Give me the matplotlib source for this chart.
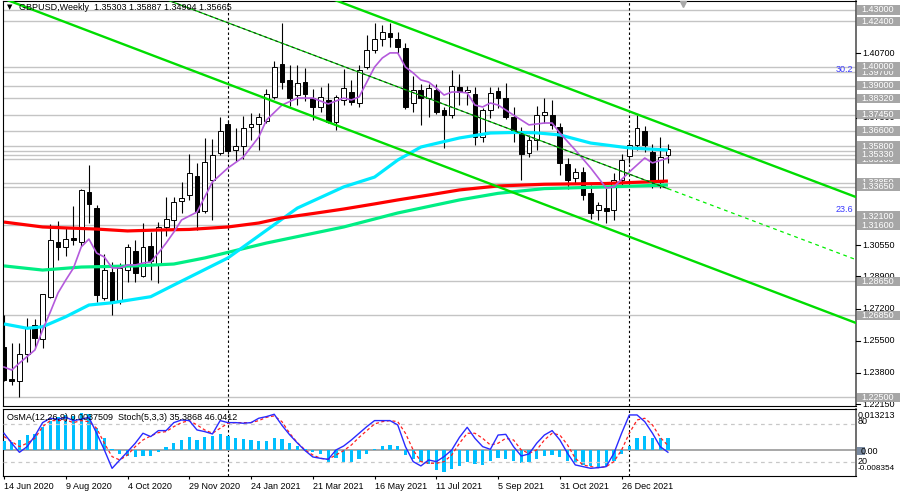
import matplotlib
matplotlib.use("Agg")
import matplotlib.pyplot as plt
from matplotlib.patches import Rectangle
from matplotlib.lines import Line2D
from matplotlib.transforms import blended_transform_factory

plt.rcParams['font.family'] = ['Liberation Sans', 'DejaVu Sans']

# ---------------- data ----------------
title = "GBPUSD,Weekly  1.35303 1.35887 1.34904 1.35665"
sub_title = "OsMA(12,26,9) 0.0037509  Stoch(5,3,3) 35.3868 46.0412"

date_labels = ['14 Jun 2020', '9 Aug 2020', '4 Oct 2020', '29 Nov 2020', '24 Jan 2021',
               '21 Mar 2021', '16 May 2021', '11 Jul 2021', '5 Sep 2021', '31 Oct 2021',
               '26 Dec 2021']
date_bars = [0, 8, 16, 24, 32, 40, 48, 56, 64, 72, 80]
year_sep_bars = [29, 81]

opens = [1.2517, 1.2348, 1.2337, 1.2480, 1.2632, 1.2559, 1.2782, 1.3072, 1.3048, 1.3094,
         1.3070, 1.3337, 1.3252, 1.2776, 1.2913, 1.2760, 1.2924, 1.3025, 1.2893, 1.3051,
         1.2950, 1.3150, 1.3190, 1.3289, 1.3321, 1.3420, 1.3236, 1.3400, 1.3543, 1.3697,
         1.3559, 1.3580, 1.3681, 1.3697, 1.3714, 1.3840, 1.4014, 1.3930, 1.3850, 1.3919,
         1.3834, 1.3788, 1.3823, 1.3707, 1.3824, 1.3866, 1.3808, 1.3998, 1.4088, 1.4146,
         1.4178, 1.4146, 1.4099, 1.3808, 1.3877, 1.3834, 1.3877, 1.3771, 1.3744, 1.3893,
         1.3866, 1.3856, 1.3628, 1.3771, 1.3870, 1.3834, 1.3734, 1.3660, 1.3543, 1.3612,
         1.3744, 1.3744, 1.3681, 1.3485, 1.3411, 1.3443, 1.3332, 1.3244, 1.3252, 1.3241,
         1.3402, 1.3530, 1.3586, 1.3660, 1.3549, 1.3391, 1.35303]
highs = [1.2686, 1.2538, 1.2538, 1.2670, 1.2667, 1.2800, 1.3168, 1.3185, 1.3152, 1.3263,
         1.3355, 1.3482, 1.3268, 1.3007, 1.2967, 1.2960, 1.3060, 1.3083, 1.3175, 1.3127,
         1.3177, 1.3312, 1.3311, 1.3390, 1.3538, 1.3490, 1.3625, 1.3620, 1.3734, 1.3720,
         1.3676, 1.3739, 1.3755, 1.3755, 1.3882, 1.4030, 1.4231, 1.4009, 1.4009, 1.3993,
         1.3882, 1.3891, 1.3914, 1.3850, 1.3990, 1.3930, 1.4009, 1.4168, 1.4231, 1.4221,
         1.4231, 1.4185, 1.4125, 1.3950, 1.3910, 1.3910, 1.3910, 1.3787, 1.3983, 1.3962,
         1.3900, 1.3890, 1.3780, 1.3892, 1.3890, 1.3914, 1.3787, 1.3680, 1.3638, 1.3790,
         1.3834, 1.3825, 1.3700, 1.3517, 1.3464, 1.3470, 1.3372, 1.3284, 1.3358, 1.3440,
         1.3540, 1.3600, 1.3745, 1.3686, 1.3590, 1.3628, 1.35887]
lows = [1.2335, 1.2316, 1.2252, 1.2440, 1.2512, 1.2512, 1.2777, 1.2977, 1.2996, 1.3058,
        1.3050, 1.3173, 1.2755, 1.2765, 1.2688, 1.2745, 1.2862, 1.2862, 1.2889, 1.2871,
        1.2854, 1.3105, 1.3140, 1.3226, 1.3295, 1.3136, 1.3226, 1.3189, 1.3533, 1.3540,
        1.3501, 1.3511, 1.3612, 1.3559, 1.3700, 1.3830, 1.3882, 1.3790, 1.3797, 1.3820,
        1.3718, 1.3760, 1.3704, 1.3665, 1.3800, 1.3797, 1.3788, 1.3990, 1.4072, 1.4110,
        1.4104, 1.4071, 1.3775, 1.3760, 1.3693, 1.3735, 1.3750, 1.3570, 1.3730, 1.3800,
        1.3800, 1.3588, 1.3600, 1.3727, 1.3780, 1.3725, 1.3602, 1.3400, 1.3522, 1.3560,
        1.3702, 1.3670, 1.3427, 1.3355, 1.3385, 1.3295, 1.3195, 1.3189, 1.3175, 1.3190,
        1.3370, 1.3490, 1.3560, 1.3550, 1.3358, 1.3360, 1.34904]
closes = [1.2342, 1.2337, 1.2480, 1.2616, 1.2566, 1.2797, 1.3083, 1.3046, 1.3087, 1.3083,
          1.3348, 1.3273, 1.2792, 1.2924, 1.2750, 1.2935, 1.3044, 1.2907, 1.3044, 1.2972,
          1.3150, 1.3195, 1.3284, 1.3305, 1.3437, 1.3231, 1.3496, 1.3533, 1.3660, 1.3554,
          1.3580, 1.3676, 1.3697, 1.3734, 1.3854, 1.3999, 1.3919, 1.3834, 1.3914, 1.3856,
          1.3787, 1.3841, 1.3707, 1.3840, 1.3886, 1.3813, 1.3982, 1.4088, 1.4146, 1.4183,
          1.4157, 1.4104, 1.3787, 1.3877, 1.3834, 1.3887, 1.3760, 1.3744, 1.3898, 1.3866,
          1.3875, 1.3628, 1.3771, 1.3860, 1.3835, 1.3735, 1.3665, 1.3538, 1.3612, 1.3745,
          1.3760, 1.3692, 1.3490, 1.3400, 1.3443, 1.3321, 1.3226, 1.3270, 1.3236, 1.3402,
          1.3508, 1.3586, 1.3676, 1.3586, 1.3390, 1.3523, 1.35665]

# moving averages (bar index, price)
red_bars = [0, 5, 8, 12, 16, 20, 24, 29, 33, 36, 40, 44, 48, 51, 55, 59, 64, 70, 78, 86]
red_vals = [1.3178, 1.3152, 1.3147, 1.3141, 1.3131, 1.3136, 1.3139, 1.3152, 1.3173, 1.3200,
            1.3223, 1.3247, 1.3274, 1.3295, 1.3321, 1.3348, 1.3369, 1.3378, 1.3382, 1.3395]
green_bars = [0, 5, 10, 17, 22, 26, 34, 44, 51, 59, 64, 70, 78, 86]
green_vals = [1.2946, 1.2924, 1.2940, 1.2946, 1.2956, 1.2988, 1.3067, 1.3152, 1.3226, 1.3295,
              1.3330, 1.3355, 1.3364, 1.3374]
cyan_bars = [0, 3, 5, 8, 11, 14, 19, 22, 29, 38, 44, 48, 51, 54, 59, 63, 66, 69, 72, 76, 81, 86]
cyan_vals = [1.2639, 1.2616, 1.2624, 1.2677, 1.2739, 1.2751, 1.2783, 1.2845, 1.2988, 1.3252,
             1.3364, 1.3416, 1.3506, 1.3575, 1.3623, 1.3649, 1.3652, 1.3650, 1.3639, 1.3596,
             1.3570, 1.3559]
purple_bars = [0, 1, 2, 4, 5, 6, 7, 8, 9, 10, 11, 12, 13, 14, 15, 16, 17, 18, 19, 20, 21, 22,
               23, 25, 27, 29, 31, 33, 34, 36, 38, 40, 42, 44, 45, 46, 47, 48, 49, 50, 51, 52,
               53, 54, 55, 56, 57, 58, 59, 60, 61, 62, 63, 64, 65, 66, 67, 68, 70, 71, 72, 74,
               76, 78, 79, 81, 83, 84, 86]
purple_vals = [1.2411, 1.2395, 1.2432, 1.2501, 1.2607, 1.2702, 1.2803, 1.2871, 1.2935, 1.3046,
               1.3088, 1.3014, 1.2993, 1.2935, 1.2935, 1.2951, 1.2951, 1.2961, 1.2967, 1.3014,
               1.3067, 1.3125, 1.3189, 1.3231, 1.3390, 1.3464, 1.3522, 1.3628, 1.3718, 1.3797,
               1.3834, 1.3834, 1.3803, 1.3834, 1.3824, 1.3840, 1.3919, 1.3998, 1.4046, 1.4073,
               1.4073, 1.3998, 1.3967, 1.3930, 1.3919, 1.3887, 1.3850, 1.3866, 1.3866, 1.3861,
               1.3797, 1.3787, 1.3808, 1.3797, 1.3771, 1.3744, 1.3718, 1.3692, 1.3702, 1.3702,
               1.3649, 1.3559, 1.3464, 1.3358, 1.3364, 1.3443, 1.3517, 1.3491, 1.3517]

# trend lines (bar index, price) anchors
channel_low = ([-1, 111], [1.43747, 1.26342])
channel_up = ([40, 111], [1.43969, 1.33005])
mid_line_solid = ([21, 86], [1.43555, 1.33545])
mid_line_dash = ([86, 111], [1.33545, 1.29693])

# horizontal levels; lines only for all, labelled ones listed separately (drawn in order)
level_lines = [1.4300, 1.4240, 1.3970, 1.4000, 1.3900, 1.3832, 1.3745, 1.3660, 1.3555, 1.3510,
               1.3580, 1.3533, 1.3385, 1.3365, 1.3210, 1.3160, 1.2865, 1.2685, 1.2250]
label_levels = [1.4300, 1.4240, 1.3970, 1.4000, 1.3900, 1.3832, 1.3745, 1.3660, 1.3510,
                1.3580, 1.3533, 1.3385, 1.3365, 1.3210, 1.3160, 1.2865, 1.2685, 1.2250]
label_texts = ['1.43000', '1.42400', '1.39700', '1.40000', '1.39000', '1.38320', '1.37450',
               '1.36600', '1.35100', '1.35800', '1.35330', '1.33850', '1.33650',
               '1.32100', '1.31600', '1.28650', '1.26850', '1.22500']
scale_ticks = [1.40700, 1.37300, 1.30550, 1.28900, 1.27200, 1.25500, 1.23800, 1.22150]
scale_texts = ['1.40700', '1.37300', '1.30550', '1.28900', '1.27200', '1.25500', '1.23800', '1.22150']
fib_levels = [1.3985, 1.3242]
fib_texts = ['30.2', '23.6']

# OsMA histogram (x 1e-3) and stochastic
osma_milli = [3.03, 2.49, 3.24, 4.97, 5.19, 7.35, 9.51, 10.59, 11.13, 10.92, 12.0, 11.67, 7.03,
              3.78, 0.32, -1.30, -1.84, -2.38, -1.84, -1.84, -0.54, 0.86, 2.27, 3.24, 4.11,
              3.24, 4.32, 4.43, 5.19, 4.65, 3.89, 3.57, 3.13, 3.03, 2.92, 3.78, 3.57, 2.27,
              1.41, 0.32, -0.76, -1.30, -4.0, -2.70, -3.78, -4.0, -2.92, -1.30, 0.32, 1.41,
              1.62, 1.41, -1.62, -2.92, -4.0, -4.54, -6.38, -7.03, -6.16, -5.08, -4.0, -4.54,
              -4.86, -3.46, -2.70, -2.92, -3.46, -4.22, -4.0, -2.92, -2.05, -1.62, -2.38,
              -3.46, -4.22, -4.76, -5.08, -5.41, -5.08, -3.46, -1.30, 1.41, 3.78, 4.43, 3.78,
              3.78, 3.75]
stoch_main = [65.4, 49.6, 35.3, 44.3, 61.1, 82.2, 89.1, 87.5, 90.6, 85.4, 87.5, 90.6, 65.4,
              39.0, 10.0, 23.2, 36.3, 49.6, 65.4, 60.1, 69.6, 69.6, 82.2, 86.4, 85.4, 70.6,
              68.0, 64.3, 85.4, 82.2, 82.2, 81.2, 82.2, 89.1, 91.7, 95.4, 78.0, 63.0, 50.0,
              38.0, 28.0, 25.8, 24.2, 39.0, 45.3, 54.8, 65.4, 75.9, 85.4, 85.4, 85.4, 78.5,
              44.3, 20.6, 13.8, 23.2, 20.6, 28.5, 39.0, 59.0, 74.8, 57.4, 44.3, 40.0, 62.6,
              63.7, 44.3, 29.5, 32.7, 49.6, 62.6, 69.6, 54.8, 33.7, 15.4, 12.7, 10.0, 11.1,
              12.7, 33.7, 65.4, 94.3, 94.3, 83.7, 65.4, 44.3, 35.4]
stoch_signal = [60.1, 52.2, 44.3, 49.6, 57.4, 75.9, 85.4, 85.4, 86.4, 82.2, 85.4, 83.7, 73.3,
                49.6, 28.5, 23.2, 31.1, 44.3, 54.8, 61.1, 66.4, 68.0, 75.9, 82.2, 85.4, 78.5,
                70.6, 65.4, 73.3, 81.2, 82.2, 82.2, 82.2, 85.4, 90.6, 92.8, 83.7, 65.4, 50.6,
                39.0, 31.1, 25.8, 24.2, 31.1, 38.0, 46.9, 59.0, 69.6, 80.1, 83.7, 85.4, 83.7,
                65.4, 39.0, 20.6, 18.0, 18.0, 20.6, 31.1, 49.6, 65.4, 65.4, 57.4, 46.9, 49.6,
                57.4, 54.8, 39.0, 33.7, 39.0, 54.8, 65.4, 62.6, 46.9, 25.8, 15.4, 12.7, 11.1,
                12.7, 20.6, 39.0, 65.4, 86.4, 89.1, 78.5, 59.0, 46.0]
osma_range = (-0.008354, 0.013213)

# ---------------- figure ----------------
W, H = 900, 495
fig = plt.figure(figsize=(W / 100, H / 100), dpi=100)
fig.patch.set_facecolor('white')

ax = fig.add_axes([3 / W, 1 - 406 / H, 853 / W, 405 / H])
axs = fig.add_axes([3 / W, 1 - 476 / H, 853 / W, 67 / H])
axs2 = axs.twinx()

bar_px = 7.72
xlim = (-1 / bar_px, 852 / bar_px)
price_top = 1.43 + 9 / 1890
price_bot = 1.43 - 396 / 1890
for a in (ax, axs, axs2):
    a.set_xlim(*xlim)
ax.set_ylim(price_bot, price_top)
axs.set_ylim(*osma_range)
axs2.set_ylim(-2.1, 103.7)

n = len(closes)
idx = list(range(n))

# horizontal level lines
for lv in level_lines:
    ax.axhline(lv, color='#c4c4c4', lw=1.0, zorder=1)

# year separators
for b in year_sep_bars:
    ax.axvline(b, color='black', lw=0.8, ls=(0, (2.2, 2.2)), zorder=2)
    axs.axvline(b, color='black', lw=0.8, ls=(0, (2.2, 2.2)), zorder=2)

# candles
bodies_bottom = [min(o, c) for o, c in zip(opens, closes)]
bodies_h = [max(abs(c - o), 0.00022) for o, c in zip(opens, closes)]
colors = ['white' if c >= o else 'black' for o, c in zip(opens, closes)]
ax.vlines(idx, lows, highs, color='black', lw=0.8, zorder=4)
ax.bar(idx, bodies_h, bottom=bodies_bottom, width=0.62, color=colors,
       edgecolor='black', linewidth=0.7, zorder=5)

# moving averages
ax.plot(green_bars, green_vals, color='#00ee84', lw=2.3, zorder=6, solid_capstyle='butt')
ax.plot(red_bars, red_vals, color='#ff0000', lw=2.3, zorder=6.5, solid_capstyle='butt')
ax.plot(cyan_bars, cyan_vals, color='#00eaff', lw=2.3, zorder=6, solid_capstyle='butt')
ax.plot(purple_bars, purple_vals, color='#b45adc', lw=1.2, zorder=7)

# trend lines
ax.plot(*channel_low, color='#00dd00', lw=1.7, zorder=8)
ax.plot(*channel_up, color='#00dd00', lw=1.7, zorder=8)
ax.plot(*mid_line_solid, color='#00cc00', lw=0.9, zorder=8)
ax.plot(*mid_line_solid, color='#202020', lw=0.7, ls=(0, (3, 3)), zorder=8.5)
ax.plot(*mid_line_dash, color='#00ee00', lw=0.9, ls=(0, (3, 3)), zorder=8)

# chart-shift marker
ax.plot([88], [price_top - 2.5 / 1890], marker='v', ms=5, color='#a8a8a8', clip_on=False, zorder=9)

for a in (ax, axs):
    a.set_yticks([])
    for s in a.spines.values():
        s.set_color('black')
        s.set_linewidth(0.8)
    a.spines['right'].set_color('#555555')
    a.spines['right'].set_linewidth(1.2)
ax.set_xticks([])
axs2.set_yticks([])
for s in axs2.spines.values():
    s.set_visible(False)

# right price scale
ppu = 1 / 1890
bt = blended_transform_factory(fig.transFigure, ax.transData)
fs = 6.5
z = 20
for lv, tx in zip(scale_ticks, scale_texts):
    ax.add_line(Line2D([856 / W, 860 / W], [lv, lv], transform=bt, color='black', lw=0.8,
                       clip_on=False, zorder=z))
    ax.text(862 / W, lv, tx, transform=bt, fontsize=fs, color='black', va='center',
            ha='left', clip_on=False, zorder=z)
z = 30
for lv, tx in zip(label_levels, label_texts):
    ax.add_patch(Rectangle((857 / W, lv - 4.6 * ppu), 45 / W, 9.2 * ppu, transform=bt,
                           facecolor='#a6a6a6', edgecolor='none', clip_on=False, zorder=z))
    ax.text(861 / W, lv, tx, transform=bt, fontsize=fs, color='white', va='center',
            ha='left', clip_on=False, zorder=z + 0.5)
    z += 1
for lv, tx in zip(fib_levels, fib_texts):
    ax.text(853 / W, lv, tx, transform=bt, fontsize=fs, color='#3a3aff', va='center',
            ha='right', clip_on=False, zorder=12)

# title
fig.text(7 / W, 1 - 7.5 / H, '\u25bc', fontsize=5, family='DejaVu Sans', va='center', ha='left')
fig.text(19 / W, 1 - 7.5 / H, title, fontsize=fs, va='center', ha='left', color='black')

# ---------------- sub window ----------------
osma = [v / 1000 for v in osma_milli]
axs.bar(idx, osma, width=0.42, color='#00bfff', zorder=3)
axs.axhline(0, color='#a0a0a0', lw=1.3, zorder=2)
axs2.axhline(80, color='#c8c8c8', lw=0.9, ls=(0, (3, 3)), zorder=1)
axs2.axhline(20, color='#c8c8c8', lw=0.9, ls=(0, (3, 3)), zorder=1)
axs2.plot(idx, stoch_signal, color='#ff2020', lw=0.9, ls=(0, (2.5, 2)), zorder=4)
axs2.plot(idx, stoch_main, color='#2a2aff', lw=1.0, zorder=5)

axs.set_xticks(date_bars)
axs.set_xticklabels(date_labels)
axs.tick_params(axis='x', length=2.5, width=0.8, pad=1.5, labelsize=fs, direction='out')
for lab in axs.get_xticklabels():
    lab.set_ha('left')

fig.text(7 / W, 1 - 417.5 / H, sub_title, fontsize=fs, va='center', ha='left', color='black')

sub_right = [(415, '0.013213', fs), (422, '80', fs), (461, '20', fs), (468, '-0.008354', 5.9)]
for ypx, tx, f in sub_right:
    fig.text(858 / W, 1 - ypx / H, tx, fontsize=f, va='center', ha='left', color='black')
fig.patches.append(Rectangle((857 / W, 1 - 455 / H), 8 / W, 8 / H, transform=fig.transFigure,
                             facecolor='#7a8aa0', edgecolor='none'))
fig.text(861 / W, 1 - 451 / H, '0.00', fontsize=fs, va='center', ha='left', color='black')

fig.savefig('out.png', dpi=100)
